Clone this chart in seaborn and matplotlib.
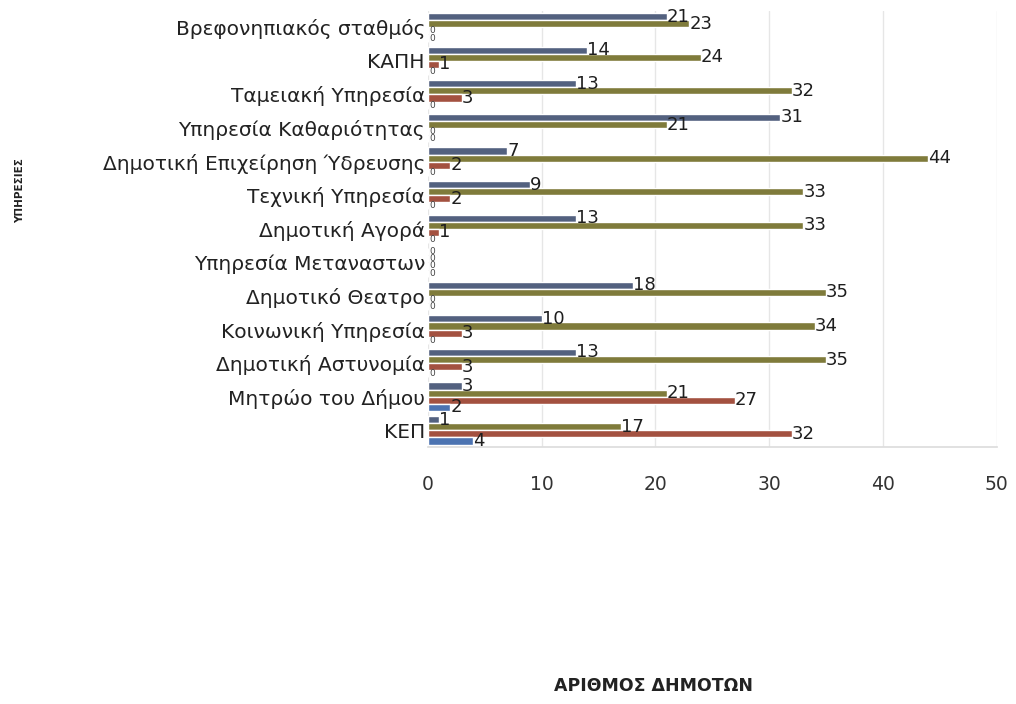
import pandas as pd
import matplotlib.pyplot as plt
import seaborn as sns

# categories, top to bottom as drawn
services = ['Βρεφονηπιακός σταθμός', 'ΚΑΠΗ', 'Ταμειακή Υπηρεσία', 'Υπηρεσία Καθαριότητας',
            'Δημοτική Επιχείρηση Ύδρευσης', 'Τεχνική Υπηρεσία', 'Δημοτική Αγορά',
            'Υπηρεσία Μεταναστων', 'Δημοτικό Θεατρο', 'Κοινωνική Υπηρεσία',
            'Δημοτική Αστυνομία', 'Μητρώο του Δήμου', 'ΚΕΠ']

# four answer series (series 1 is the lowest bar of each group)
series1 = [0, 0, 0, 0, 0, 0, 0, 0, 0, 0, 0, 2, 4]
series2 = [0, 1, 3, 0, 2, 2, 1, 0, 0, 3, 3, 27, 32]
series3 = [23, 24, 32, 21, 44, 33, 33, 0, 35, 34, 35, 21, 17]
series4 = [21, 14, 13, 31, 7, 9, 13, 0, 18, 10, 13, 3, 1]

series_names = ['Σειρά1', 'Σειρά2', 'Σειρά3', 'Σειρά4']
x_ticks = [0, 10, 20, 30, 40, 50]

rows = []
for name, vals in zip(series_names, [series1, series2, series3, series4]):
    for svc, v in zip(services, vals):
        rows.append({'service': svc, 'series': name, 'count': v})
df = pd.DataFrame(rows)

sns.set_theme(style="white")
plt.rcParams['font.family'] = ['DejaVu Sans']

fig = plt.figure(figsize=(10.16, 7.04), dpi=100)
ax = fig.add_axes([0.421, 0.365, 0.560, 0.62])

colors = {'Σειρά1': '#3b6fc2', 'Σειρά2': '#b4462f', 'Σειρά3': '#8a8530', 'Σειρά4': '#4c5f86'}
# seaborn puts the first hue level at the top of each group
sns.barplot(data=df, y='service', x='count', hue='series', order=services,
            hue_order=['Σειρά4', 'Σειρά3', 'Σειρά2', 'Σειρά1'], palette=colors,
            orient='h', width=0.85, legend=False, ax=ax)

# value labels at bar ends; the zeros are drawn small as in the original
for c in ax.containers:
    vals = c.datavalues
    labels = [f'{v:g}' if v > 0 else '' for v in vals]
    ax.bar_label(c, labels=labels, fontsize=13, padding=0, color='#1e1e1e')
    zeros = ['0' if v == 0 else '' for v in vals]
    ax.bar_label(c, labels=zeros, fontsize=6.5, padding=1, color='#444444')

ax.set_xlim(0, 50)
ax.set_xticks(x_ticks)
ax.tick_params(axis='x', labelsize=13.5, pad=20, colors='#333333', length=0)
ax.tick_params(axis='y', labelsize=14.5, pad=2, colors='#222222', length=0)
ax.xaxis.grid(True, color='#e6e6e6', linewidth=1)
ax.set_axisbelow(True)
for side in ['top', 'right', 'left']:
    ax.spines[side].set_visible(False)
ax.spines['bottom'].set_color('#dddddd')
ax.set_xlabel('')
ax.set_ylabel('')

fig.text(0.02, 0.73, 'ΥΠΗΡΕΣΙΕΣ', rotation=90, fontsize=7.5, fontweight='bold',
         ha='center', va='center', color='#222222')
fig.text(0.643, 0.025, 'ΑΡΙΘΜΟΣ ΔΗΜΟΤΩΝ', fontsize=12.5, fontweight='bold',
         ha='center', va='center', color='#222222')

plt.savefig('out.png', dpi=100)
